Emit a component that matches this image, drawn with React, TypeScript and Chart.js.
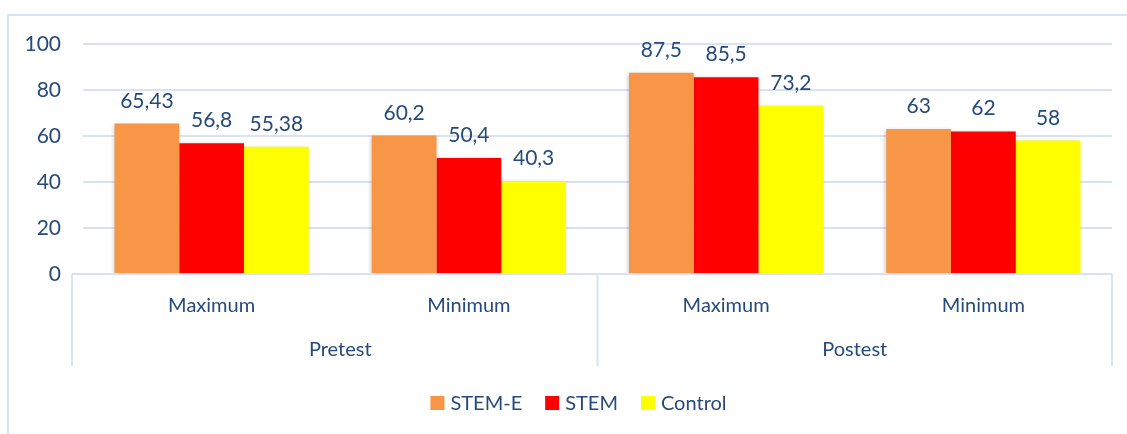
import React, { useEffect, useRef } from "react";
import { Chart, registerables } from "chart.js";

Chart.register(...registerables);

const subCategories = ["Maximum", "Minimum", "Maximum", "Minimum"];
const groupLabels = ["Pretest", "Postest"];
const seriesNames = ["STEM-E", "STEM", "Control"];
const stemEValues = [65.43, 60.2, 87.5, 63];
const stemValues = [56.8, 50.4, 85.5, 62];
const controlValues = [55.38, 40.3, 73.2, 58];
const yTickValues = [0, 20, 40, 60, 80, 100];

const seriesColors = ["#F79646", "#FF0000", "#FFFF00"];
const TEXT = "#264A7B";
const GRID = "#D9E2F3";
const FONT = "Lato, 'Open Sans', sans-serif";

const fmt = (v: number) => String(v).replace(".", ",");

const decorPlugin = {
  id: "decor",
  beforeDraw(chart: any) {
    const { ctx } = chart;
    ctx.save();
    ctx.fillStyle = "#FFFFFF";
    ctx.fillRect(0, 0, chart.width, chart.height);
    ctx.strokeStyle = GRID;
    ctx.lineWidth = 2;
    ctx.strokeRect(8, 15, chart.width + 20, chart.height + 20);
    ctx.restore();
  },
  beforeDatasetsDraw(chart: any) {
    const { ctx } = chart;
    ctx.save();
    ctx.shadowColor = "rgba(0,0,0,0.22)";
    ctx.shadowBlur = 4;
    ctx.shadowOffsetX = -1;
    ctx.shadowOffsetY = 1;
  },
  afterDatasetsDraw(chart: any) {
    const { ctx } = chart;
    ctx.restore();
    ctx.save();
    ctx.fillStyle = TEXT;
    ctx.font = `21px ${FONT}`;
    ctx.textAlign = "center";
    ctx.textBaseline = "alphabetic";
    chart.data.datasets.forEach((ds: any, di: number) => {
      const meta = chart.getDatasetMeta(di);
      meta.data.forEach((bar: any, i: number) => {
        ctx.fillText(fmt(ds.data[i]), bar.x, bar.y - 16);
      });
    });
    ctx.restore();
  },
  afterDraw(chart: any) {
    const { ctx, chartArea } = chart;
    const xs = chart.scales.x;
    const step = xs.getPixelForValue(1) - xs.getPixelForValue(0);
    const leftB = xs.getPixelForValue(0) - step / 2;
    const midB = leftB + step * 2;
    const rightB = leftB + step * 4;
    const axisY = chartArea.bottom;
    const lineBottom = 366;
    ctx.save();
    ctx.strokeStyle = GRID;
    ctx.lineWidth = 2;
    ctx.beginPath();
    ctx.moveTo(leftB - 11, axisY);
    ctx.lineTo(rightB, axisY);
    [leftB - 11, midB, rightB].forEach((x) => {
      ctx.moveTo(x, axisY);
      ctx.lineTo(x, lineBottom);
    });
    ctx.stroke();

    ctx.fillStyle = TEXT;
    ctx.font = `20px ${FONT}`;
    ctx.textAlign = "center";
    ctx.textBaseline = "middle";
    ctx.fillText(groupLabels[0], (leftB + midB) / 2, 350);
    ctx.fillText(groupLabels[1], (midB + rightB) / 2, 350);

    // legend
    const items = seriesNames.map((n, i) => ({ n, c: seriesColors[i] }));
    ctx.font = `20px ${FONT}`;
    const box = 14;
    const gapText = 6;
    const gapItem = 23;
    const widths = items.map((it) => box + gapText + ctx.measureText(it.n).width);
    const total = widths.reduce((a, b) => a + b, 0) + gapItem * (items.length - 1);
    let x = 428 + (301 - total) / 2;
    const ly = 403;
    ctx.textAlign = "left";
    items.forEach((it, i) => {
      ctx.fillStyle = it.c;
      ctx.fillRect(x, ly - box / 2, box, box);
      ctx.fillStyle = TEXT;
      ctx.fillText(it.n, x + box + gapText, ly + 1);
      x += widths[i] + gapItem;
    });
    ctx.restore();
  },
};

export default function App() {
  const ref = useRef<HTMLCanvasElement | null>(null);
  useEffect(() => {
    document.body.style.margin = "0";
    const canvas = ref.current!;
    const chart = new Chart(canvas, {
      type: "bar",
      data: {
        labels: subCategories,
        datasets: [
          { label: seriesNames[0], data: stemEValues, backgroundColor: seriesColors[0] },
          { label: seriesNames[1], data: stemValues, backgroundColor: seriesColors[1] },
          { label: seriesNames[2], data: controlValues, backgroundColor: seriesColors[2] },
        ],
      },
      options: {
        animation: false,
        responsive: false,
        devicePixelRatio: 1,
        layout: { padding: { top: 44, left: 0, right: 15, bottom: 0 } },
        datasets: { bar: { categoryPercentage: 0.755, barPercentage: 1 } },
        plugins: { legend: { display: false }, tooltip: { enabled: false } },
        scales: {
          x: {
            grid: { display: false, drawTicks: false },
            border: { display: false },
            ticks: { color: TEXT, font: { family: FONT, size: 20 }, padding: 20 },
            afterFit: (s: any) => {
              s.height = 160;
            },
          },
          y: {
            min: 0,
            max: 100,
            afterBuildTicks: (s: any) => {
              s.ticks = yTickValues.map((v) => ({ value: v }));
            },
            grid: { color: GRID, lineWidth: 2, drawTicks: false },
            border: { display: false },
            ticks: { color: TEXT, font: { family: FONT, size: 21 }, padding: 22 },
            afterFit: (s: any) => {
              s.width = 83;
            },
          },
        },
      },
      plugins: [decorPlugin],
    });
    return () => chart.destroy();
  }, []);
  return (
    <div style={{ width: 1127, height: 434 }}>
      <canvas ref={ref} width={1127} height={434} />
    </div>
  );
}
